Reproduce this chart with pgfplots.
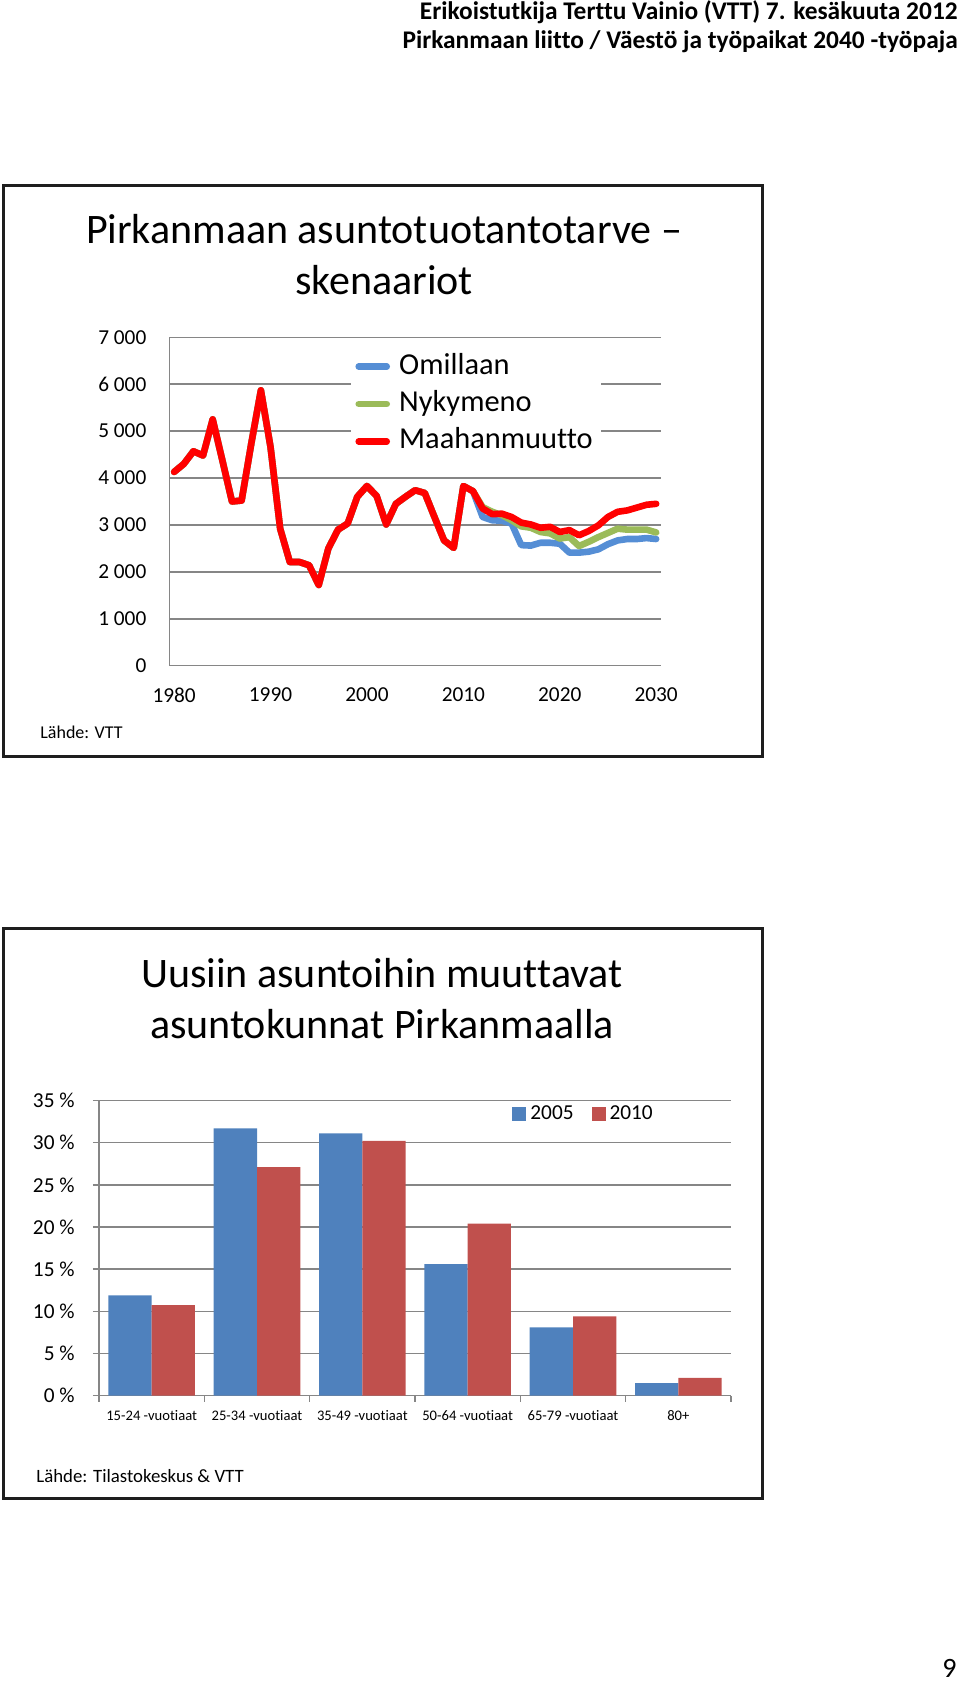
\documentclass[border=0pt]{standalone}
\usepackage{fontspec}
\setmainfont{Carlito}[Ligatures=NoCommon]
\usepackage{pgfplots}
\usepackage{pgfplotstable}
\pgfplotsset{compat=1.18}

\definecolor{omil}{RGB}{85,142,213}
\definecolor{nyky}{RGB}{155,187,89}
\definecolor{maah}{RGB}{255,0,0}
\definecolor{b05}{RGB}{79,129,189}
\definecolor{r10}{RGB}{192,80,77}
\definecolor{gridc}{RGB}{134,134,134}
\definecolor{framec}{RGB}{30,30,30}

% housing need scenarios, 1980-2030
\pgfplotstableread{
year omil nyky maah
1980 4130 4130 4130
1981 4300 4300 4300
1982 4570 4570 4570
1983 4480 4480 4480
1984 5250 5250 5250
1985 4380 4380 4380
1986 3500 3500 3500
1987 3520 3520 3520
1988 4730 4730 4730
1989 5870 5870 5870
1990 4660 4660 4660
1991 2920 2920 2920
1992 2210 2210 2210
1993 2210 2210 2210
1994 2140 2140 2140
1995 1720 1720 1720
1996 2500 2500 2500
1997 2900 2900 2900
1998 3030 3030 3030
1999 3600 3600 3600
2000 3830 3830 3830
2001 3620 3620 3620
2002 3010 3010 3010
2003 3450 3450 3450
2004 3600 3600 3600
2005 3740 3740 3740
2006 3680 3680 3680
2007 3170 3170 3170
2008 2670 2670 2670
2009 2510 2510 2510
2010 3830 3830 3830
2011 3720 3720 3720
2012 3170 3380 3350
2013 3100 3280 3230
2014 3090 3210 3240
2015 3030 3100 3170
2016 2570 2970 3050
2017 2560 2940 3010
2018 2620 2850 2940
2019 2620 2820 2960
2020 2600 2710 2850
2021 2410 2740 2890
2022 2410 2550 2780
2023 2430 2640 2870
2024 2480 2740 2990
2025 2590 2830 3170
2026 2670 2920 3280
2027 2700 2900 3310
2028 2700 2900 3370
2029 2720 2900 3430
2030 2700 2840 3450
}\linedata

\begin{document}
\begin{tikzpicture}[x=0.5pt,y=0.5pt]
\useasboundingbox (0,0) rectangle (960,1684);

% page header
\node[anchor=base east, inner sep=0pt, font=\bfseries\fontsize{12.7}{15}\selectfont] at (958,1664) {Erikoistutkija Terttu Vainio (VTT) 7. kesäkuuta 2012};
\node[anchor=base east, inner sep=0pt, font=\bfseries\fontsize{12.7}{15}\selectfont] at (958,1635) {Pirkanmaan liitto / Väestö ja työpaikat 2040 -työpaja};

% ---- chart 1 ----
\draw[framec, line width=1.5pt] (3,1498) rectangle (762,927);
\node[anchor=base, inner sep=0pt, font=\fontsize{21}{25}\selectfont] at (384,1440) {Pirkanmaan asuntotuotantotarve –};
\node[anchor=base, inner sep=0pt, font=\fontsize{21}{25}\selectfont] at (384,1389) {skenaariot};
\node[anchor=base west, inner sep=0pt, font=\fontsize{9}{11}\selectfont] at (40,945) {Lähde: VTT};

\begin{axis}[
  at={(84.65pt,509.15pt)}, anchor=south west, scale only axis,
  width=245.85pt, height=164.2pt,
  xmin=1979.5, xmax=2030.5, ymin=0, ymax=7000,
  xtick={1980,1990,2000,2010,2020,2030},
  xticklabels={1980,1990,2000,2010,2020,2030},
  ytick={0,1000,2000,3000,4000,5000,6000,7000},
  yticklabels={0,1 000,2 000,3 000,4 000,5 000,6 000,7 000},
  major tick length=0pt,
  axis x line*=bottom, axis y line*=left,
  axis line style={gridc, line width=0.75pt},
  ymajorgrids, grid style={gridc, line width=0.75pt},
  tick label style={font=\fontsize{10.65}{12}\selectfont, inner sep=0pt},
  yticklabel style={xshift=-11.3pt},
  xticklabel style={yshift=-10.9pt},
  legend style={at={(axis description cs:0.3696,0.981)}, anchor=north west,
    draw=none, fill=white, font=\fontsize{15.2}{17}\selectfont,
    inner xsep=2pt, inner ysep=2pt, row sep=0pt,
    nodes={inner sep=2.1pt, text height=11pt, text depth=3.5pt},
    /tikz/every odd column/.append style={column sep=2.5pt}},
  legend cell align=left,
  legend image code/.code={\draw[#1, line width=3.3pt, line cap=round] (1.6pt,0pt) -- (15.6pt,0pt);},
]
\addplot[omil, line width=3.3pt, line join=round, line cap=round] table[x=year, y=omil] {\linedata};
\addplot[nyky, line width=3.3pt, line join=round, line cap=round] table[x=year, y=nyky] {\linedata};
\addplot[maah, line width=3.3pt, line join=round, line cap=round] table[x=year, y=maah] {\linedata};
\legend{Omillaan, Nykymeno, Maahanmuutto}
\end{axis}

% ---- chart 2 ----
\draw[framec, line width=1.5pt] (3,755) rectangle (762,185);
\node[anchor=base, inner sep=0pt, font=\fontsize{21}{25}\selectfont] at (382,696) {Uusiin asuntoihin muuttavat};
\node[anchor=base, inner sep=0pt, font=\fontsize{21}{25}\selectfont] at (382,645.5) {asuntokunnat Pirkanmaalla};
\node[anchor=base west, inner sep=0pt, font=\fontsize{9.4}{11}\selectfont] at (36,201.5) {Lähde: Tilastokeskus \& VTT};

\begin{axis}[
  at={(49.5pt,144.15pt)}, anchor=south west, scale only axis,
  width=316pt, height=147.6pt,
  xmin=-0.5, xmax=5.5, ymin=0, ymax=35,
  xtick={0,1,2,3,4,5},
  xticklabels={15-24 -vuotiaat,25-34 -vuotiaat,35-49 -vuotiaat,50-64 -vuotiaat,65-79 -vuotiaat,80+},
  minor xtick={-0.5,0.5,1.5,2.5,3.5,4.5,5.5},
  ytick={0,5,10,15,20,25,30,35},
  yticklabels={0 \%,5 \%,10 \%,15 \%,20 \%,25 \%,30 \%,35 \%},
  tick align=outside, major tick length=3pt, minor tick length=3pt,
  major x tick style={draw=none},
  tick style={gridc, line width=0.75pt},
  axis x line*=bottom, axis y line*=left,
  axis line style={gridc, line width=0.75pt},
  ymajorgrids, grid style={gridc, line width=0.75pt},
  xticklabel style={font=\fontsize{7.3}{9}\selectfont, inner sep=0pt, yshift=-4.3pt},
  yticklabel style={font=\fontsize{10.65}{12}\selectfont, inner sep=0pt, xshift=-9pt},
  legend style={at={(axis description cs:0.6535,0.955)}, anchor=west,
    draw=none, fill=none, inner sep=0pt, font=\fontsize{10.65}{12}\selectfont,
    /tikz/every even column/.append style={column sep=7pt}},
  legend columns=2,
  legend image code/.code={\fill[#1] (0pt,-3.5pt) rectangle (7pt,3.5pt);},
]
\addplot[ybar, bar width=0.411, bar shift=-0.2055, fill=b05, draw=none]
  coordinates {(0,11.9) (1,31.7) (2,31.1) (3,15.6) (4,8.1) (5,1.5)};
\addplot[ybar, bar width=0.411, bar shift=0.2055, fill=r10, draw=none]
  coordinates {(0,10.75) (1,27.1) (2,30.2) (3,20.4) (4,9.4) (5,2.1)};
\legend{2005, 2010}
\end{axis}

% page number
\node[anchor=base east, inner sep=0pt, font=\fontsize{14}{16}\selectfont] at (957,6) {9};
\end{tikzpicture}
\end{document}
